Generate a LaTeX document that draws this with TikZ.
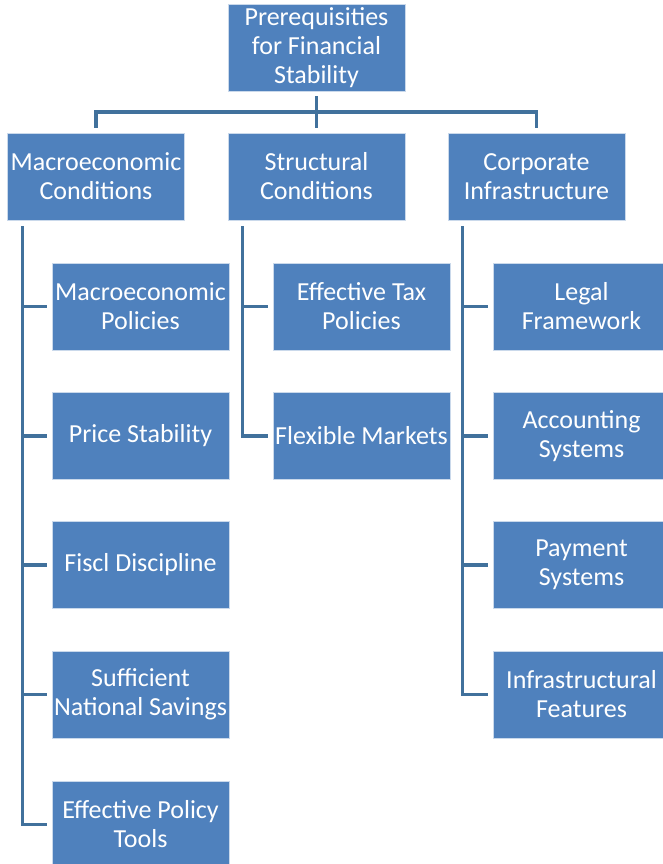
\documentclass[tikz,border=0pt]{standalone}
\usepackage{fontspec}
\setmainfont{Carlito}
\definecolor{boxblue}{HTML}{4F81BD}
\definecolor{lineblue}{HTML}{41719C}

\begin{document}
\begin{tikzpicture}[x=1pt, y=-1pt,
                    box/.style={rectangle, fill=boxblue, draw=white!70!boxblue,
                                line width=0.6pt, text=white, align=center,
                                minimum width=177pt, minimum height=87pt,
                                inner sep=0pt,
                                font=\fontsize{26}{29}\selectfont},
                    link/.style={draw=lineblue, line width=3.4pt}]
    \useasboundingbox (0,0) rectangle (662,864);

    \node[box] (top) at (316.5, 47.5) {Prerequisities\\for Financial\\Stability};

    \node[box] (mac) at (96, 176.5) {Macroeconomic\\Conditions};
    \node[box] (str) at (316.5, 176.5) {Structural\\Conditions};
    \node[box] (cor) at (536.5, 176.5) {Corporate\\Infrastructure};

    \node[box] (m1) at (140.5, 306.5) {Macroeconomic\\Policies};
    \node[box] (m2) at (140.5, 436) {Price Stability};
    \node[box] (m3) at (140.5, 565) {Fiscl Discipline};
    \node[box] (m4) at (140.5, 694.5) {Sufficient\\National Savings};
    \node[box] (m5) at (140.5, 824.5) {Effective Policy\\Tools};

    \node[box] (s1) at (361.5, 306.5) {Effective Tax\\Policies};
    \node[box] (s2) at (361.5, 436) {Flexible Markets};

    \node[box] (c1) at (581.5, 306.5) {Legal\\Framework};
    \node[box] (c2) at (581.5, 436) {Accounting\\Systems};
    \node[box] (c3) at (581.5, 565) {Payment\\Systems};
    \node[box] (c4) at (581.5, 694.5) {Infrastructural\\Features};

    \coordinate (hub) at (316.5, 112);
    \draw[link] ([yshift=-5pt]top.south) -- (hub);
    \foreach \n in {mac, str, cor} {
        \draw[link] (hub) -| ([yshift=5pt]\n.north);
    }

    \foreach \p/\c in {mac/m1, mac/m2, mac/m3, mac/m4, mac/m5,
                       str/s1, str/s2,
                       cor/c1, cor/c2, cor/c3, cor/c4} {
        \draw[link] ([xshift=15pt, yshift=-6pt]\p.south west) |- ([xshift=-5pt]\c.west);
    }
\end{tikzpicture}
\end{document}
